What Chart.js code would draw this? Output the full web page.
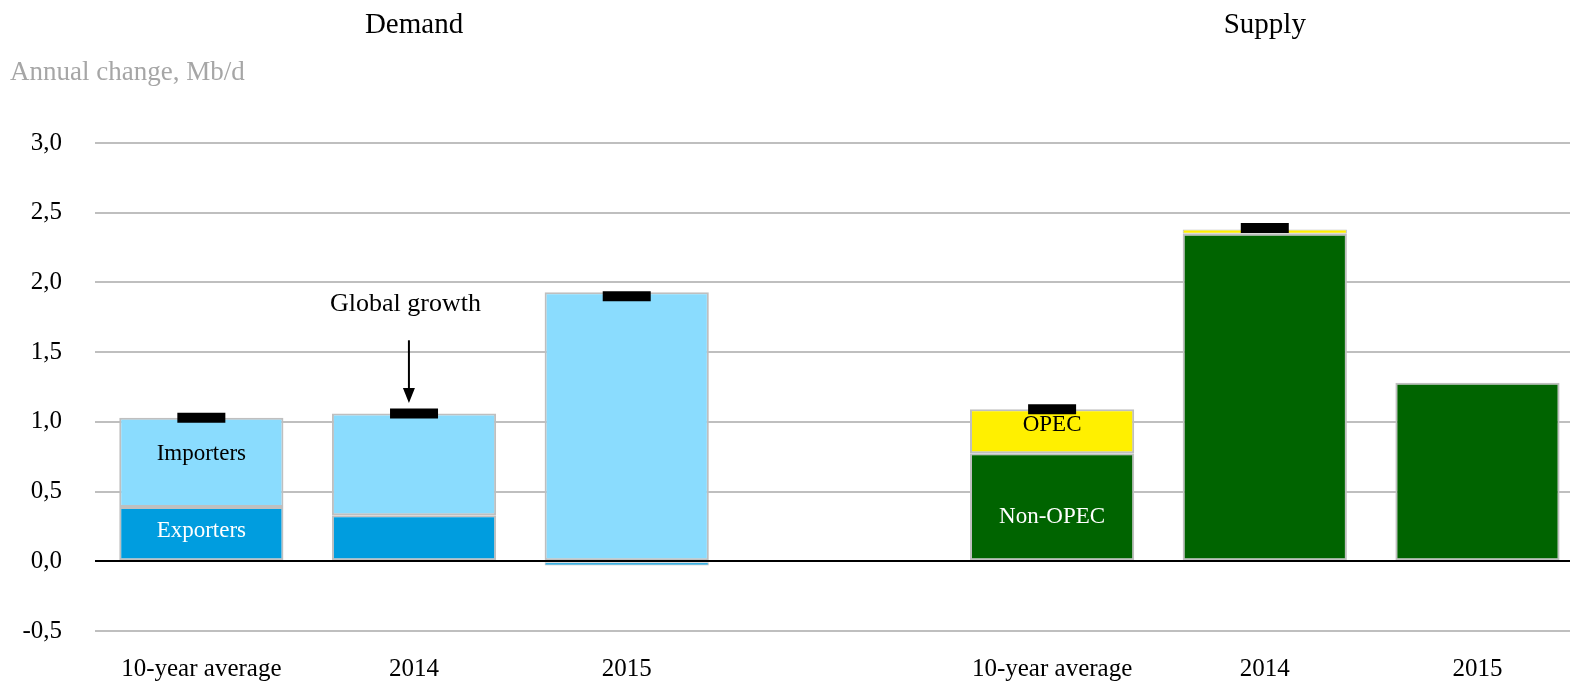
<!DOCTYPE html>
<html>
<head>
<meta charset="utf-8">
<script src="https://cdn.jsdelivr.net/npm/chart.js@4/dist/chart.umd.min.js"></script>
<style>
  html, body { margin: 0; padding: 0; background: #fff; }
  #wrap { width: 1570px; height: 682px; }
</style>
</head>
<body>
<div id="wrap"><canvas id="chart" width="1570" height="682"></canvas></div>
<script>
/* categories on the x axis (slot 3 is the empty gap between the panels) */
const categories = ["10-year average", "2014", "2015", "", "10-year average", "2014", "2015"];
const panelTitles = ["Demand", "Supply"];
const panelCenters = [1, 5];

/* demand side, slots 0-2 */
const demandSlots = [0, 1, 2];
const exporters = [0.39, 0.33, -0.03];
const importers = [0.64, 0.73, 1.93];

/* supply side, slots 4-6 */
const supplySlots = [4, 5, 6];
const nonOpec = [0.775, 2.35, 1.28];
const opec = [0.315, 0.03, null];

/* global growth markers */
const growthSlots = [0, 1, 2, 4, 5];
const globalGrowth = [1.03, 1.06, 1.90, 1.09, 2.39];

/* y axis */
const yMin = -0.5, yMax = 3.0, yStep = 0.5;

/* in-bar labels: [text, slot, value, color] */
const barLabels = [
  ["Importers", 0, 0.77, "#000"],
  ["Exporters", 0, 0.22, "#fff"],
  ["OPEC", 4, 0.98, "#000"],
  ["Non-OPEC", 4, 0.32, "#fff"]
];

const FONT = "'Liberation Serif', 'DejaVu Serif', serif";

function pts(slots, vals) {
  return slots.map((s, i) => ({ x: s, y: vals[i] }));
}

/* text + arrows drawn on top */
const overlay = {
  id: "overlay",
  afterDatasetsDraw(chart) {
    const { ctx, chartArea } = chart;
    const x = chart.scales.x, y = chart.scales.y;
    ctx.save();

    // zero line over the bars
    const y0 = Math.round(y.getPixelForValue(0));
    ctx.strokeStyle = "#000";
    ctx.lineWidth = 2;
    ctx.beginPath();
    ctx.moveTo(chartArea.left, y0);
    ctx.lineTo(chartArea.right, y0);
    ctx.stroke();

    ctx.textAlign = "center";
    ctx.textBaseline = "middle";
    ctx.font = "23px " + FONT;
    barLabels.forEach(l => {
      ctx.fillStyle = l[3];
      ctx.fillText(l[0], x.getPixelForValue(l[1]), y.getPixelForValue(l[2]));
    });

    // "Global growth" callout
    ctx.fillStyle = "#000";
    ctx.font = "26px " + FONT;
    ctx.fillText("Global growth", x.getPixelForValue(0.96), y.getPixelForValue(1.845));
    const ax = x.getPixelForValue(0.976);
    const aTop = y.getPixelForValue(1.585), aBot = y.getPixelForValue(1.135);
    ctx.lineWidth = 2;
    ctx.beginPath();
    ctx.moveTo(ax, aTop);
    ctx.lineTo(ax, aBot - 12);
    ctx.stroke();
    ctx.beginPath();
    ctx.moveTo(ax - 6, aBot - 15);
    ctx.lineTo(ax + 6, aBot - 15);
    ctx.lineTo(ax, aBot);
    ctx.closePath();
    ctx.fill();

    // panel titles
    ctx.font = "29px " + FONT;
    panelTitles.forEach((t, i) => ctx.fillText(t, x.getPixelForValue(panelCenters[i]), 25));

    // axis title
    ctx.textAlign = "left";
    ctx.fillStyle = "#a6a6a6";
    ctx.font = "27px " + FONT;
    ctx.fillText("Annual change, Mb/d", 10, 73);
    ctx.restore();
  }
};

/* thin segments get a thinner outline so their fill still shows */
const barBase = {
  borderColor: "#bfbfbf",
  borderWidth: c => (c.raw && Math.abs(c.raw.y) < 0.1 ? 1 : 2),
  borderSkipped: false
};

new Chart(document.getElementById("chart"), {
  type: "bar",
  data: {
    datasets: [
      {
        type: "line", label: "Global growth", data: pts(growthSlots, globalGrowth),
        showLine: false, pointStyle: "line", pointRadius: 24, pointHoverRadius: 24,
        pointBorderWidth: 10, borderColor: "#000", backgroundColor: "#000", order: -1
      },
      Object.assign({ label: "Exporters", data: pts(demandSlots, exporters), backgroundColor: "#009ddf" }, barBase),
      Object.assign({ label: "Importers", data: pts(demandSlots, importers), backgroundColor: "#8adcfe" }, barBase),
      Object.assign({ label: "Non-OPEC", data: pts(supplySlots, nonOpec), backgroundColor: "#006400" }, barBase),
      Object.assign({ label: "OPEC", data: pts(supplySlots, opec), backgroundColor: "#fff000" }, barBase)
    ]
  },
  options: {
    responsive: false,
    animation: false,
    events: [],
    layout: { autoPadding: false, padding: { top: 143, right: 0, bottom: 0, left: 0 } },
    datasets: { bar: { categoryPercentage: 0.772, barPercentage: 1 } },
    plugins: { legend: { display: false }, tooltip: { enabled: false } },
    scales: {
      x: {
        type: "linear", stacked: true, offset: false,
        min: -0.5, max: 6.435,
        afterBuildTicks: axis => { axis.ticks = categories.map((_, i) => ({ value: i })); },
        afterFit: axis => { axis.height = 51; axis.paddingLeft = 0; axis.paddingRight = 0; },
        grid: { display: false },
        border: { display: false },
        ticks: {
          callback: v => categories[v] || "",
          color: "#000", padding: 15, maxRotation: 0, autoSkip: false,
          font: { family: FONT, size: 25 }
        }
      },
      y: {
        stacked: true,
        min: yMin, max: yMax,
        afterFit: axis => { axis.width = 95; },
        grid: { color: "#bfbfbf", lineWidth: 2, drawTicks: false },
        border: { display: false },
        ticks: {
          stepSize: yStep,
          callback: v => v.toFixed(1).replace(".", ","),
          color: "#000", padding: 33,
          font: { family: FONT, size: 25 }
        }
      }
    }
  },
  plugins: [overlay]
});
</script>
</body>
</html>
